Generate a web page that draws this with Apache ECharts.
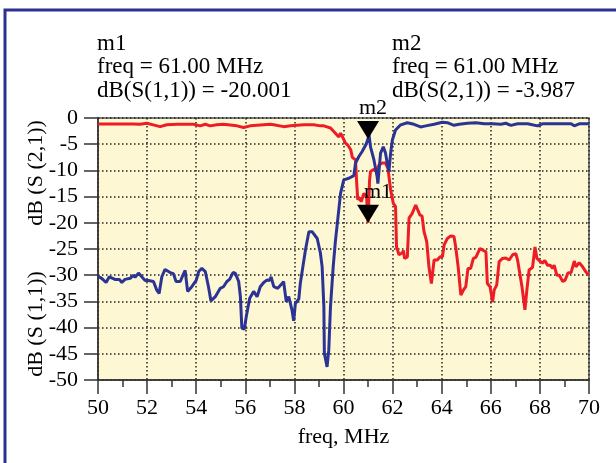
<!DOCTYPE html>
<html>
<head>
<meta charset="utf-8">
<script src="https://cdn.jsdelivr.net/npm/echarts@6/dist/echarts.min.js"></script>
<style>
html,body{margin:0;padding:0;background:#fff;}
#chart{width:616px;height:463px;}
</style>
</head>
<body>
<div id="chart"></div>
<script>
// S(2,1) trace (blue)
var s21Freq = [50.00,50.15,50.33,50.46,50.69,50.87,50.97,51.10,51.31,51.44,51.51,51.65,51.78,51.92,52.05,52.26,52.39,52.49,52.60,52.73,52.94,53.07,53.18,53.35,53.46,53.55,53.65,53.82,54.00,54.10,54.23,54.37,54.50,54.60,54.78,54.98,55.11,55.25,55.36,55.50,55.59,55.73,55.80,55.86,55.96,56.04,56.18,56.34,56.48,56.61,56.75,56.89,56.99,57.05,57.16,57.32,57.50,57.56,57.67,57.77,57.90,57.97,58.04,58.18,58.24,58.45,58.59,58.72,58.93,59.06,59.13,59.20,59.22,59.33,59.40,59.47,59.58,59.67,59.88,60.01,60.22,60.42,60.49,60.62,60.76,60.92,61.00,61.04,61.10,61.24,61.37,61.40,61.51,61.62,61.71,61.78,61.85,61.92,61.99,62.12,62.33,62.60,62.87,63.14,63.35,63.69,64.03,64.23,64.50,64.71,65.05,65.39,65.73,66.07,66.41,66.61,66.82,67.09,67.50,67.90,68.10,68.58,69.27,69.40,69.60,70.00];
var s21Val = [-30.2,-30.6,-31.4,-30.3,-30.8,-30.8,-31.4,-30.8,-30.6,-30.0,-30.4,-29.6,-30.3,-31.0,-31.0,-31.2,-32.8,-33.5,-30.3,-28.9,-29.5,-29.7,-31.2,-31.2,-30.0,-29.1,-33.1,-32.2,-31.0,-29.3,-28.7,-29.3,-32.2,-34.9,-34.1,-32.5,-32.2,-31.2,-30.8,-29.5,-29.6,-31.2,-34.1,-40.1,-40.3,-37.9,-34.4,-33.1,-34.1,-32.2,-31.4,-30.9,-31.0,-30.3,-32.2,-32.5,-31.6,-31.2,-35.1,-34.1,-36.6,-38.7,-35.4,-34.5,-31.6,-25.2,-21.7,-21.7,-23.0,-25.8,-28.4,-36.0,-44.9,-47.5,-44.3,-36.0,-28.4,-23.5,-14.4,-11.8,-11.5,-11.0,-8.6,-7.4,-6.4,-5.0,-3.987,-3.2,-5.5,-8.0,-11.2,-12.5,-6.7,-5.5,-6.7,-8.6,-10.2,-6.7,-4.2,-2.3,-1.3,-0.9,-1.2,-1.7,-1.5,-1.2,-0.8,-0.9,-1.4,-1.2,-1.0,-0.9,-1.1,-1.1,-1.2,-1.0,-1.4,-1.1,-1.1,-1.5,-1.1,-1.1,-1.1,-1.5,-1.1,-1.1];

// S(1,1) trace (red)
var s11Freq = [50.00,51.44,51.71,51.99,52.33,52.53,52.80,53.21,53.89,54.16,54.37,54.57,54.84,55.11,55.66,55.93,56.20,57.02,57.16,57.56,57.84,58.38,58.79,59.06,59.20,59.47,59.67,59.81,59.88,59.99,60.08,60.18,60.29,60.36,60.49,60.53,60.58,60.66,60.72,60.83,60.94,61.00,61.06,61.10,61.24,61.35,61.44,61.58,61.71,61.81,61.92,62.03,62.12,62.16,62.26,62.40,62.44,62.49,62.60,62.67,62.80,62.94,63.00,63.11,63.20,63.28,63.39,63.48,63.58,63.69,63.82,63.93,64.03,64.10,64.23,64.37,64.50,64.57,64.67,64.78,64.89,64.98,65.07,65.18,65.29,65.39,65.56,65.70,65.80,65.86,65.97,66.07,66.14,66.24,66.34,66.48,66.61,66.75,66.89,67.02,67.09,67.16,67.27,67.39,67.47,67.56,67.70,67.80,67.88,67.97,68.10,68.20,68.31,68.42,68.52,68.58,68.69,68.79,68.93,69.02,69.14,69.27,69.40,69.47,69.60,69.74,69.88,70.00];
var s11Val = [-1.15,-1.15,-1.2,-1.0,-1.4,-1.65,-1.3,-1.2,-1.2,-1.5,-1.2,-1.5,-1.3,-1.2,-1.5,-1.8,-1.5,-1.2,-1.3,-1.65,-1.5,-1.3,-1.3,-1.5,-1.5,-1.9,-2.9,-3.6,-2.9,-3.9,-4.8,-5.2,-6.0,-7.5,-8.0,-11.8,-15.6,-15.2,-16.0,-14.4,-15.0,-20.001,-12.0,-10.2,-9.8,-10.2,-9.0,-8.6,-8.6,-9.6,-13.7,-16.3,-16.9,-24.6,-26.1,-25.7,-25.3,-26.8,-26.5,-19.1,-18.2,-16.6,-16.6,-18.5,-18.7,-21.7,-23.6,-28.4,-31.6,-27.1,-27.1,-26.5,-26.5,-24.2,-23.0,-22.5,-22.6,-24.6,-28.4,-33.8,-32.8,-32.2,-28.7,-28.7,-26.8,-26.6,-24.9,-25.3,-25.5,-31.6,-32.2,-35.1,-32.8,-31.9,-27.4,-26.8,-26.7,-27.1,-26.1,-25.9,-27.1,-27.4,-32.2,-36.6,-32.8,-29.0,-28.5,-24.6,-26.8,-27.2,-27.7,-27.2,-28.1,-28.1,-28.7,-28.1,-30.0,-30.0,-31.2,-31.0,-29.6,-29.5,-27.3,-28.4,-27.6,-28.4,-29.4,-30.0];

// markers
var markerNames = ['m1','m2'];
var markerFreq = [61.00, 61.00];
var markerVal = [-20.001, -3.987];
var markerText1 = ['m1','freq = 61.00 MHz','dB(S(1,1)) = -20.001'];
var markerText2 = ['m2','freq = 61.00 MHz','dB(S(2,1)) = -3.987'];

var xTitle = 'freq, MHz';
var yTitleTop = 'dB (S (2,1))';
var yTitleBottom = 'dB (S (1,1))';

function pairs(xs, ys){ return xs.map(function(x,i){ return [x, ys[i]]; }); }

var FONT = 'Liberation Serif, Times New Roman, serif';
var chart = echarts.init(document.getElementById('chart'), null, {renderer:'canvas'});

var tri = 'path://M0,0 L22,0 L11,18 Z';

function markerPoint(idx, offX){
  return {
    coord:[markerFreq[idx], markerVal[idx]],
    symbol: tri, symbolSize:[22,18], symbolOffset:[0,-9],
    itemStyle:{color:'#000'},
    label:{show:true, position:'top', distance:2, offset:[offX,0], formatter:markerNames[idx],
      color:'#000', fontSize:22, fontFamily:FONT}
  };
}

var textLines = [];
markerText1.forEach(function(t,i){
  textLines.push({type:'text', left:97, top:32+i*23.5, style:{text:t, fill:'#000', font:'23px '+FONT}});
});
markerText2.forEach(function(t,i){
  textLines.push({type:'text', left:392, top:32+i*23.5, style:{text:t, fill:'#000', font:'23px '+FONT}});
});

var option = {
  backgroundColor:'#fff',
  animation:false,
  grid:{left:98, right:27, top:118, bottom:83, show:true, backgroundColor:'#fdf8d3', borderColor:'#555', borderWidth:1.5},
  xAxis:{
    type:'value', min:50, max:70, interval:2,
    name:xTitle, nameLocation:'middle', nameGap:46,
    nameTextStyle:{color:'#000', fontSize:22, fontFamily:FONT, verticalAlign:'top'},
    axisLine:{show:true, onZero:false, lineStyle:{color:'#333', width:1.5}},
    axisTick:{show:true, length:14, lineStyle:{color:'#333', width:1.5}},
    minorTick:{show:true, splitNumber:2, length:7, lineStyle:{color:'#333', width:1.5}},
    axisLabel:{color:'#000', fontSize:22, fontFamily:FONT, margin:17},
    splitLine:{show:true, lineStyle:{color:'#222', type:[1.5,2.5], width:1.5}}
  },
  yAxis:{
    type:'value', min:-50, max:0, interval:5,
    axisLine:{show:true, onZero:false, lineStyle:{color:'#333', width:1.5}},
    axisTick:{show:true, length:14, lineStyle:{color:'#333', width:1.5}},
    axisLabel:{color:'#000', fontSize:22, fontFamily:FONT, margin:20},
    splitLine:{show:true, lineStyle:{color:'#222', type:[1.5,2.5], width:1.5}}
  },
  graphic: [
    {type:'polyline', shape:{points:[[5,463],[5,10],[616,10]]}, style:{stroke:'#2e3192', lineWidth:3, fill:null}},
    {type:'text', x:36, y:173, rotation:Math.PI/2, style:{text:yTitleTop, fill:'#000', font:'22px '+FONT, textAlign:'center', textVerticalAlign:'middle'}},
    {type:'text', x:36, y:324, rotation:Math.PI/2, style:{text:yTitleBottom, fill:'#000', font:'22px '+FONT, textAlign:'center', textVerticalAlign:'middle'}}
  ].concat(textLines),
  series:[
    {
      name:'S11', type:'line', data:pairs(s11Freq, s11Val), showSymbol:false, symbol:'none',
      lineStyle:{color:'#ee1c25', width:3}, clip:true, z:2,
      markPoint:{data:[markerPoint(0, 10)], z:10}
    },
    {
      name:'S21', type:'line', data:pairs(s21Freq, s21Val), showSymbol:false, symbol:'none',
      lineStyle:{color:'#2b3494', width:3}, clip:true, z:3,
      markPoint:{data:[markerPoint(1, 5)], z:10}
    }
  ]
};
chart.setOption(option);
</script>
</body>
</html>
